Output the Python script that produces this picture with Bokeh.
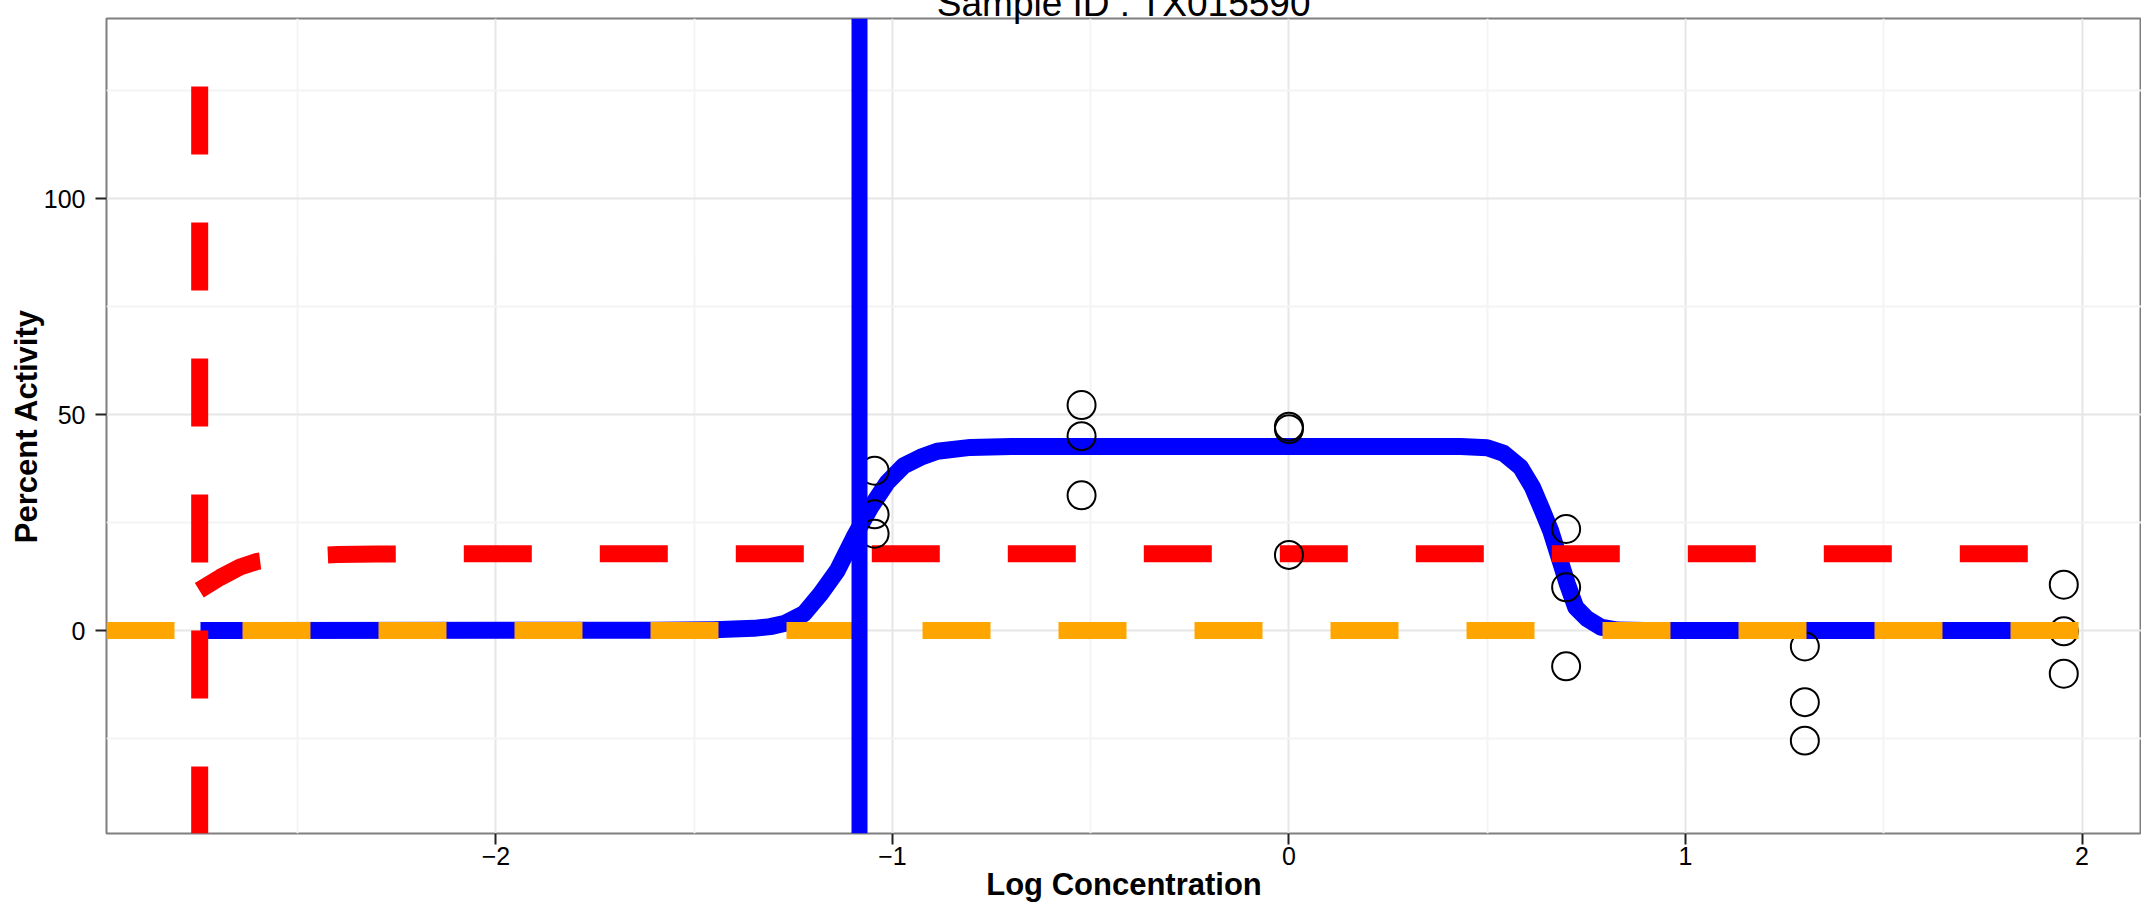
from bokeh.plotting import figure
from bokeh.models import Span, FixedTicker, Range1d, LinearAxis
from bokeh.embed import file_html
from bokeh.resources import INLINE

# ---- data ----
title_text = "Sample ID : TX015590"
x_label = "Log Concentration"
y_label = "Percent Activity"

# observed responses (log10 concentration, percent activity)
obs_logc = [-1.045, -1.045, -1.045, -0.523, -0.523, -0.523, 0.0, 0.0, 0.0,
            0.699, 0.699, 0.699, 1.301, 1.301, 1.301, 1.954, 1.954, 1.954]
obs_act = [37.0, 26.9, 22.4, 52.2, 45.0, 31.3, 47.2, 46.6, 17.5,
           23.5, 10.0, -8.3, -3.7, -16.6, -25.5, 10.6, -0.2, -10.0]

# fitted bell-shaped curve (blue)
fit_logc = [-2.745, -1.6, -1.45, -1.35, -1.308, -1.27, -1.223, -1.181, -1.139,
            -1.097, -1.055, -1.013, -0.971, -0.929, -0.887, -0.803, -0.7,
            0.433, 0.5, 0.542, 0.584, 0.614, 0.639, 0.66, 0.681, 0.702,
            0.723, 0.752, 0.786, 0.828, 0.9, 1.954]
fit_act = [0.0, 0.05, 0.2, 0.5, 0.9, 1.7, 3.9, 8.5, 13.9,
           21.6, 28.5, 34.3, 38.2, 40.1, 41.5, 42.4, 42.6,
           42.6, 42.3, 41.0, 37.8, 33.2, 27.8, 23.1, 17.0, 10.8,
           5.4, 2.7, 0.8, 0.1, 0.0, 0.0]

# second fitted curve (red dashed)
fit2_logc = [-2.748, -2.695, -2.645, -2.602, -2.5, -2.4, -2.3, -2.2, 1.954]
fit2_act = [9.3, 12.3, 14.7, 16.0, 17.2, 17.6, 17.7, 17.75, 17.75]

baseline_level = 0.0        # orange dashed reference line
blue_vline_logc = -1.083    # blue vertical marker
red_vline_logc = -2.747     # red dashed vertical marker

x_ticks = [-2, -1, 0, 1, 2]
x_minor = [-2.5, -1.5, -0.5, 0.5, 1.5]
x_tick_labels = {-2: "\u22122", -1: "\u22121", 0: "0", 1: "1", 2: "2"}
y_ticks = [0, 50, 100]
y_minor = [-25, 25, 75, 125]

FONT = "Liberation Sans"
X0, X1 = -2.982, 2.150
Y0, Y1 = -47.0, 141.7
SHIFT = 22   # canvas is pulled up by this much so the title is cut at the page top

p = figure(width=2141, height=904 + SHIFT, output_backend="svg",
           toolbar_location=None,
           x_range=Range1d(X0, X1), y_range=Range1d(Y0, Y1),
           min_border_left=106, min_border_right=0, min_border_top=18 + SHIFT,
           min_border_bottom=71)
p.margin = (-SHIFT, 0, 0, 0)
p.background_fill_color = "white"
p.border_fill_color = "white"
p.outline_line_color = "#7f7f7f"
p.outline_line_width = 2

xax = p.below[0]
yax = p.left[0]
for ax in (xax, yax):
    ax.axis_line_color = None
    ax.major_tick_line_color = "#222222"
    ax.major_tick_line_width = 2
    ax.major_tick_out = 11
    ax.major_tick_in = 0
    ax.minor_tick_line_color = None
    ax.major_label_text_font = FONT
    ax.major_label_text_font_size = "25px"
    ax.major_label_text_color = "black"
    ax.axis_label_text_font = FONT
    ax.axis_label_text_font_size = "31px"
    ax.axis_label_text_font_style = "bold"
    ax.axis_label_text_color = "black"

xax.ticker = FixedTicker(ticks=x_ticks, minor_ticks=x_minor)
yax.ticker = FixedTicker(ticks=y_ticks, minor_ticks=y_minor)
xax.major_label_overrides = x_tick_labels
xax.axis_label = x_label
yax.axis_label = y_label
xax.major_label_standoff = 2
xax.axis_label_standoff = -1
yax.major_label_standoff = 10
yax.axis_label_standoff = -3

for g in (p.xgrid[0], p.ygrid[0]):
    g.grid_line_color = "#e6e6e6"
    g.grid_line_width = 2
    g.minor_grid_line_color = "#f4f4f4"
    g.minor_grid_line_width = 2

# plot title, carried by a tick-less axis above the frame
tax = LinearAxis(ticker=FixedTicker(ticks=[]), axis_label=title_text,
                 axis_line_color=None, major_tick_line_color=None,
                 minor_tick_line_color=None, major_tick_out=0, major_tick_in=0,
                 major_label_standoff=0, axis_label_standoff=-5,
                 axis_label_text_font=FONT, axis_label_text_font_size="37px",
                 axis_label_text_font_style="normal",
                 axis_label_text_color="black")
p.add_layout(tax, "above")

# layers
p.line(fit_logc, fit_act, line_color="blue", line_width=17, line_join="round")
p.line(fit2_logc, fit2_act, line_color="red", line_width=17, line_dash="68 68")
p.add_layout(Span(location=baseline_level, dimension="width", line_color="orange",
                  line_width=17, line_dash="68 68"))
p.add_layout(Span(location=red_vline_logc, dimension="height", line_color="red",
                  line_width=17, line_dash="68 68", line_dash_offset=68))
p.add_layout(Span(location=blue_vline_logc, dimension="height", line_color="blue",
                  line_width=16))
p.scatter(obs_logc, obs_act, marker="circle", size=28, fill_color=None,
          line_color="black", line_width=2)

open("out.html", "w").write(file_html(p, INLINE))
